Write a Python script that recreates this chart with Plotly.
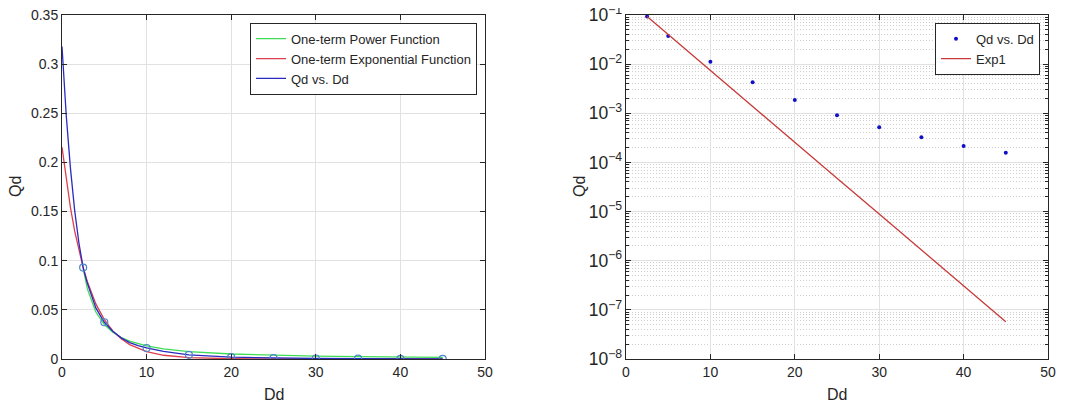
import plotly.graph_objects as go

# ---------------- data ----------------
# measured points
Dd = [2.5, 5, 10, 15, 20, 25, 30, 35, 40, 45]
Qd = [0.093, 0.0374, 0.0112, 0.00427, 0.00186, 0.00091, 0.00052, 0.000324, 0.000216, 0.000158]

# blue "Qd vs. Dd" curve (left panel)
blue_x = [0, 0.5, 1, 1.5, 2, 2.5, 3, 4, 5, 6, 7, 8, 9, 10, 12, 15, 20, 25, 30, 35, 40, 45]
blue_y = [0.318, 0.248, 0.194, 0.151, 0.118, 0.093, 0.077, 0.052, 0.0374, 0.0283, 0.0215,
          0.0167, 0.0136, 0.0112, 0.0077, 0.00427, 0.00186, 0.00091, 0.00052, 0.000324,
          0.000216, 0.000158]

# green "One-term Power Function" curve (left panel)
green_x = [2.5, 3, 4, 5, 6, 7, 8, 10, 12, 15, 20, 25, 30, 35, 40, 45]
green_y = [0.092, 0.0713, 0.0478, 0.035, 0.0272, 0.0219, 0.0182, 0.01335, 0.01033, 0.00757,
           0.00507, 0.00372, 0.00288, 0.00232, 0.00193, 0.00164]

# red "One-term Exponential Function" / "Exp1" curve
red_x = [0, 0.5, 1, 1.5, 2, 2.5, 3, 4, 5, 6, 7, 8, 10, 12, 15, 20, 25, 30, 35, 40, 45]
red_y = [0.2155, 0.1822, 0.1539, 0.1301, 0.11, 0.0929, 0.0786, 0.0561, 0.0401, 0.0286, 0.0205,
         0.0146, 0.00745, 0.0038, 0.00139, 0.000258, 4.79e-5, 8.91e-6, 1.66e-6, 3.09e-7, 5.75e-8]

# red line on the log panel (data range only)
exp1_x = red_x[5:]
exp1_y = red_y[5:]

left_yticks = [0, 0.05, 0.1, 0.15, 0.2, 0.25, 0.3, 0.35]
x_ticks = [0, 10, 20, 30, 40, 50]

# ---------------- styling ----------------
FONT = "Liberation Sans, Arial, Helvetica, sans-serif"
AX = "#262626"
GRID = "#e1e1e1"

# the page body has an 8px margin; size the figure to fit the window
OFF = 8
W, H = 1076 - OFF, 405 - OFF


def px(p):
    return (p - OFF) / W


def py(p):
    return 1 - (p - OFF) / H


fig = go.Figure()

# left panel
fig.add_trace(go.Scatter(x=green_x, y=green_y, mode="lines", name="One-term Power Function",
                         line=dict(color="#3fdc55", width=1.3), xaxis="x", yaxis="y",
                         legend="legend"))
fig.add_trace(go.Scatter(x=red_x, y=red_y, mode="lines", name="One-term Exponential Function",
                         line=dict(color="#dc3f4e", width=1.3), xaxis="x", yaxis="y",
                         legend="legend"))
fig.add_trace(go.Scatter(x=blue_x, y=blue_y, mode="lines", name="Qd vs. Dd",
                         line=dict(color="#2a2ac0", width=1.3), xaxis="x", yaxis="y",
                         legend="legend"))
fig.add_trace(go.Scatter(x=Dd, y=Qd, mode="markers", name="data", showlegend=False,
                         marker=dict(symbol="circle-open", size=7, color="#4a86c8",
                                     line=dict(width=1.2)),
                         xaxis="x", yaxis="y"))

# right panel
fig.add_trace(go.Scatter(x=Dd, y=Qd, mode="markers", name="Qd vs. Dd",
                         marker=dict(size=4, color="#1010c8"), xaxis="x2", yaxis="y2",
                         legend="legend2"))
fig.add_trace(go.Scatter(x=exp1_x, y=exp1_y, mode="lines", name="Exp1",
                         line=dict(color="#c83a3a", width=1.3), xaxis="x2", yaxis="y2",
                         legend="legend2"))

common = dict(showline=True, linecolor=AX, linewidth=1, mirror="ticks", ticks="inside",
              ticklen=5, tickcolor=AX, showgrid=True, gridcolor=GRID, gridwidth=1,
              zeroline=False, automargin=False, ticklabeloverflow="allow",
              tickfont=dict(family=FONT, size=14, color=AX))

fig.update_layout(
    width=W, height=H,
    paper_bgcolor="white", plot_bgcolor="white",
    margin=dict(l=0, r=0, t=0, b=0),
    font=dict(family=FONT, size=13, color=AX),
    xaxis=dict(domain=[px(62), px(485)], range=[0, 50], tickvals=x_ticks, anchor="y", **common),
    yaxis=dict(domain=[py(359), py(15)], range=[0, 0.35], tickvals=left_yticks, anchor="x",
               **common),
    xaxis2=dict(domain=[px(626), px(1048)], range=[0, 50], tickvals=x_ticks, anchor="y2",
                **common),
    yaxis2=dict(domain=[py(359), py(15)], type="log", range=[-8, -1], dtick=1,
                exponentformat="power", anchor="x2",
                minor=dict(dtick="D1", showgrid=True, gridcolor="#cfcfcf", griddash="1px,2px",
                           ticks="inside", ticklen=3, tickcolor=AX),
                **common),
    legend=dict(x=px(477), y=py(22.7), xanchor="right", yanchor="top",
                bgcolor="white", bordercolor=AX, borderwidth=1,
                font=dict(family=FONT, size=13, color=AX), tracegroupgap=0,
                itemwidth=30),
    legend2=dict(x=px(1040), y=py(22.7), xanchor="right", yanchor="top",
                 bgcolor="white", bordercolor=AX, borderwidth=1,
                 font=dict(family=FONT, size=13, color=AX), itemwidth=30),
    showlegend=True,
)

# axis titles
ann_font = dict(family=FONT, size=16, color=AX)
fig.add_annotation(text="Dd", x=px(273.5), y=py(394), xref="paper", yref="paper",
                   showarrow=False, font=ann_font, xanchor="center", yanchor="middle")
fig.add_annotation(text="Dd", x=px(837), y=py(394), xref="paper", yref="paper",
                   showarrow=False, font=ann_font, xanchor="center", yanchor="middle")
fig.add_annotation(text="Qd", x=px(15), y=py(187), xref="paper", yref="paper",
                   showarrow=False, font=ann_font, textangle=-90,
                   xanchor="center", yanchor="middle")
fig.add_annotation(text="Qd", x=px(579), y=py(187), xref="paper", yref="paper",
                   showarrow=False, font=ann_font, textangle=-90,
                   xanchor="center", yanchor="middle")

fig.write_html("out.html")
